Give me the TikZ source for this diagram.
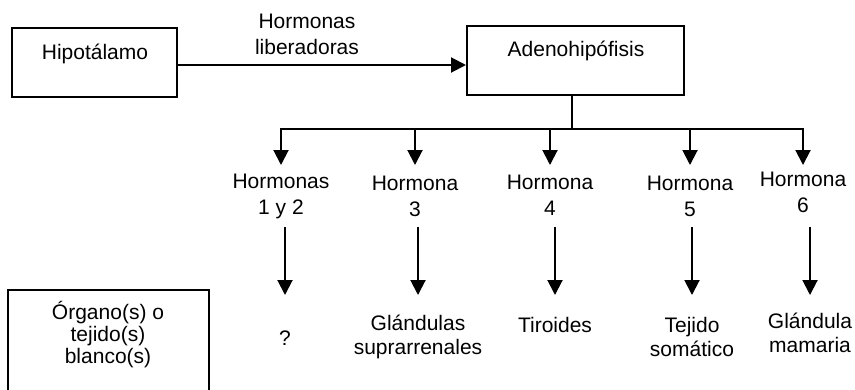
\documentclass[tikz,border=0pt]{standalone}
\usepackage{fontspec}
\setmainfont{Liberation Sans}
\usetikzlibrary{arrows.meta}
\begin{document}
\begin{tikzpicture}[x=0.5pt,y=-0.5pt,
  box/.style={draw,line width=1pt,inner sep=0pt,minimum height=34.5pt},
  lbl/.style={align=center,font=\fontsize{10.5}{13}\selectfont,inner sep=0pt},
  tlbl/.style={lbl,font=\fontsize{10.5}{12}\selectfont},
  ln/.style={line width=1pt},
  arr/.style={line width=1pt,-{Triangle[width=7.5pt,length=7.5pt]}}]
\useasboundingbox (0,0) rectangle (855,390);
\clip (0,0) rectangle (855,390);
% boxes
\node[box,minimum width=82.5pt] (hip) at (94.5,62.5) {};
\node[lbl] (hipt) at (95,54) {Hipotálamo};
\node[box,minimum width=108.5pt] (adeno) at (575.5,60.5) {};
\node[lbl] (adenot) at (576,51) {Adenohipófisis};
\node[lbl] (lib) at (307,34) {Hormonas\\liberadoras};
\node[box,minimum width=100.5pt,minimum height=55pt] (organ) at (108.5,345) {};
\node[lbl,font=\fontsize{10.5}{11}\selectfont] (organt) at (108,335) {Órgano(s) o\\tejido(s)\\blanco(s)};
% hormones
\node[lbl] (h1) at (281,196) {Hormonas\\1 y 2};
\node[lbl] (h2) at (415,196) {Hormona\\3};
\node[lbl] (h3) at (550,195) {Hormona\\4};
\node[lbl] (h4) at (690,196) {Hormona\\5};
\node[lbl] (h5) at (803,192) {Hormona\\6};
% targets
\node[tlbl] (t1) at (285,338) {?};
\node[tlbl] (t2) at (418,337) {Glándulas\\suprarrenales};
\node[tlbl] (t3) at (555,325) {Tiroides};
\node[tlbl] (t4) at (692,337) {Tejido\\somático};
\node[tlbl] (t5) at (810,333) {Glándula\\mamaria};
% helper levels
\coordinate (tipA) at (0,165);
\coordinate (startB) at (0,227);
\coordinate (tipB) at (0,295);
% connectors
\draw[arr] ([yshift=-1.25pt]hip.east) -- ([yshift=-1.25pt]hip.east -| adeno.west);
\coordinate (j) at (572,129);
\draw[ln] (j |- adeno.south) -- (j);
\draw[arr] (j) -| (h1.north |- tipA);
\draw[arr] (j) -| (h5.north |- tipA);
\foreach \h in {h2,h3,h4}
  \draw[arr] (\h.north |- j) -- (\h.north |- tipA);
\foreach \h/\t in {h1/t1,h2/t2,h3/t3,h4/t4,h5/t5}
  \draw[arr] (\t.north |- startB) -- (\t.north |- tipB);
\end{tikzpicture}
\end{document}
